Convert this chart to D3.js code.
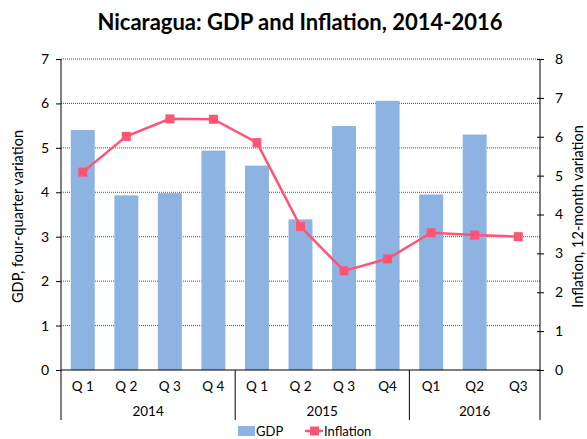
<!DOCTYPE html>
<html>
<head>
<meta charset="utf-8">
<script src="https://cdn.jsdelivr.net/npm/d3@7"></script>
<style>
  body { margin: 0; background: #fff; }
  svg text { font-family: Lato, "Open Sans", sans-serif; fill: #000; }
</style>
</head>
<body>
<div id="chart"></div>
<script>
// chart data
const quarters = ["Q 1", "Q 2", "Q 3", "Q 4", "Q 1", "Q 2", "Q 3", "Q4", "Q1", "Q2", "Q3"]
const years = [
  { label: "2014", from: 0, to: 4 },
  { label: "2015", from: 4, to: 8 },
  { label: "2016", from: 8, to: 11 }
]
const gdp = [5.40, 3.93, 3.98, 4.94, 4.60, 3.39, 5.49, 6.06, 3.95, 5.30, null]
const inflation = [5.09, 6.01, 6.46, 6.45, 5.85, 3.69, 2.55, 2.86, 3.53, 3.47, 3.43]
const leftTicks = [0, 1, 2, 3, 4, 5, 6, 7]
const rightTicks = [0, 1, 2, 3, 4, 5, 6, 7, 8]

const width = 587, height = 439
const margin = { top: 59, right: 47, bottom: 69, left: 61 }
const innerW = width - margin.left - margin.right
const innerH = height - margin.top - margin.bottom

const svg = d3.select("#chart").append("svg")
  .attr("width", width)
  .attr("height", height)

const g = svg.append("g").attr("transform", `translate(${margin.left},${margin.top})`)

const idx = d3.range(quarters.length)
const x = d3.scaleBand().domain(idx).range([0, innerW]).paddingInner(0.45).paddingOuter(0.225)
const xc = d3.scaleBand().domain(idx).range([0, innerW])
const yL = d3.scaleLinear().domain([0, 7]).range([innerH, 0])
const yR = d3.scaleLinear().domain([0, 8]).range([innerH, 0])

// gridlines
g.append("g").selectAll("line")
  .data(leftTicks.slice(1))
  .enter().append("line")
  .attr("x1", 0).attr("x2", innerW)
  .attr("y1", d => yL(d)).attr("y2", d => yL(d))
  .attr("stroke", "#555")
  .attr("stroke-width", 1)
  .attr("stroke-dasharray", "1,1")

// bars
g.append("g").selectAll("rect")
  .data(gdp.map((v, i) => ({ v, i })).filter(d => d.v !== null))
  .enter().append("rect")
  .attr("x", d => x(d.i))
  .attr("width", x.bandwidth())
  .attr("y", d => yL(d.v))
  .attr("height", d => innerH - yL(d.v))
  .attr("fill", "#8DB3E2")

// inflation line
const line = d3.line()
  .x((d, i) => xc(i) + xc.bandwidth() / 2)
  .y(d => yR(d))

g.append("path")
  .datum(inflation)
  .attr("d", line)
  .attr("fill", "none")
  .attr("stroke", "#FF5473")
  .attr("stroke-width", 2.5)

g.append("g").selectAll("rect")
  .data(inflation)
  .enter().append("rect")
  .attr("x", (d, i) => xc(i) + xc.bandwidth() / 2 - 4.5)
  .attr("y", d => yR(d) - 4.5)
  .attr("width", 9).attr("height", 9)
  .attr("fill", "#FF5473")

// left axis
const axL = g.append("g")
  .call(d3.axisLeft(yL).tickValues(leftTicks).tickFormat(d3.format("d")).tickSize(5).tickPadding(7))
axL.select(".domain").attr("stroke", "#000").attr("d", `M0,${innerH}V0`)
axL.selectAll(".tick line").attr("stroke", "#000").attr("x2", -5).attr("x1", 0)
axL.selectAll("text").attr("font-size", 14).attr("font-family", "Lato, sans-serif")

// right axis
const axR = g.append("g").attr("transform", `translate(${innerW},0)`)
  .call(d3.axisRight(yR).tickValues(rightTicks).tickFormat(d3.format("d")).tickSize(5).tickPadding(10))
axR.select(".domain").attr("stroke", "#000").attr("d", `M0,${innerH}V0`)
axR.selectAll(".tick line").attr("stroke", "#000").attr("x1", -3).attr("x2", 4)
axR.selectAll("text").attr("font-size", 14).attr("font-family", "Lato, sans-serif")

// x axis baseline
g.append("line")
  .attr("x1", 0).attr("x2", innerW)
  .attr("y1", innerH).attr("y2", innerH)
  .attr("stroke", "#000")

// quarter labels
g.append("g").selectAll("text")
  .data(quarters)
  .enter().append("text")
  .attr("x", (d, i) => xc(i) + xc.bandwidth() / 2)
  .attr("y", innerH + 21)
  .attr("text-anchor", "middle")
  .attr("font-size", 13.5)
  .text(d => d)

// year separators
const seps = [0].concat(years.map(d => d.to))
g.append("g").selectAll("line")
  .data(seps)
  .enter().append("line")
  .attr("x1", d => d === quarters.length ? innerW : xc(d))
  .attr("x2", d => d === quarters.length ? innerW : xc(d))
  .attr("y1", innerH).attr("y2", innerH + 50)
  .attr("stroke", "#000")

g.append("g").selectAll("text")
  .data(years)
  .enter().append("text")
  .attr("x", d => (xc(d.from) + (d.to === quarters.length ? innerW : xc(d.to))) / 2)
  .attr("y", innerH + 46)
  .attr("text-anchor", "middle")
  .attr("font-size", 13.5)
  .text(d => d.label)

// axis titles
svg.append("text")
  .attr("transform", `translate(23,${margin.top + innerH / 2 + 2}) rotate(-90)`)
  .attr("text-anchor", "middle")
  .attr("font-size", 14.5)
  .text("GDP, four-quarter variation")

svg.append("text")
  .attr("transform", `translate(583,${margin.top + innerH / 2 + 2}) rotate(-90)`)
  .attr("text-anchor", "middle")
  .attr("font-size", 14.5)
  .text("Inflation, 12-month variation")

// title
svg.append("text")
  .attr("x", 300)
  .attr("y", 30)
  .attr("text-anchor", "middle")
  .attr("font-size", 22)
  .attr("font-weight", "bold")
  .text("Nicaragua: GDP and Inflation, 2014-2016")

// legend
const leg = svg.append("g").attr("transform", "translate(0,431)")
leg.append("rect")
  .attr("x", 238).attr("y", -5)
  .attr("width", 17).attr("height", 10)
  .attr("fill", "#8DB3E2")
leg.append("text")
  .attr("x", 256).attr("y", 4.5)
  .attr("font-size", 13)
  .text("GDP")
leg.append("line")
  .attr("x1", 305).attr("x2", 323)
  .attr("y1", 0).attr("y2", 0)
  .attr("stroke", "#FF5473").attr("stroke-width", 2.5)
leg.append("rect")
  .attr("x", 310).attr("y", -4.5)
  .attr("width", 9).attr("height", 9)
  .attr("fill", "#FF5473")
leg.append("text")
  .attr("x", 324).attr("y", 4.5)
  .attr("font-size", 13)
  .text("Inflation")
</script>
</body>
</html>
